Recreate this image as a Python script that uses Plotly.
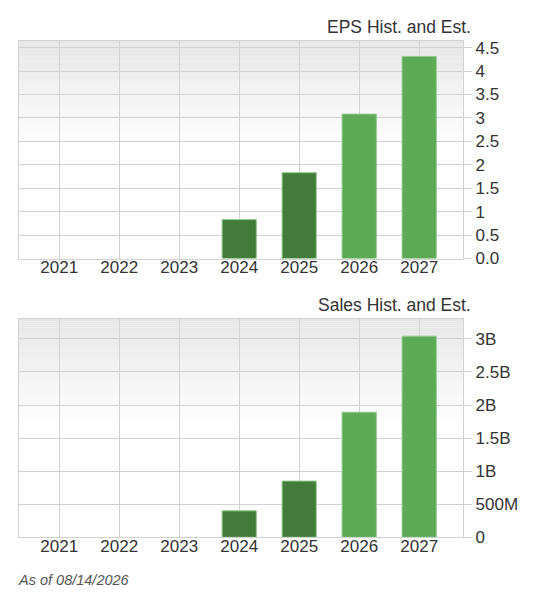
import plotly.graph_objects as go

years = ["2021", "2022", "2023", "2024", "2025", "2026", "2027"]
eps = [None, None, None, 0.83, 1.83, 3.08, 4.31]
sales = [None, None, None, 0.40e9, 0.85e9, 1.89e9, 3.04e9]

eps_ticks = [0, 0.5, 1, 1.5, 2, 2.5, 3, 3.5, 4, 4.5]
eps_labels = ["0.0", "0.5", "1", "1.5", "2", "2.5", "3", "3.5", "4", "4.5"]
sales_ticks = [0, 0.5e9, 1e9, 1.5e9, 2e9, 2.5e9, 3e9]
sales_labels = ["0", "500M", "1B", "1.5B", "2B", "2.5B", "3B"]

dark = "#437c3a"
light = "#5caa55"
bar_colors = [dark, dark, dark, dark, dark, light, light]
grid = "#d2d2d2"
text = "#333333"

# the page body has an 8px margin, so the figure is drawn 8px in from the corner
PAGE = 8
W, H = 535 - 2 * PAGE, 606 - 2 * PAGE


def px_x(x):
    return (x - PAGE) / W


def px_y(y):
    return 1 - (y - PAGE) / H


fig = go.Figure()
fig.add_trace(go.Bar(x=years, y=eps, xaxis="x", yaxis="y", width=0.57,
                     marker=dict(color=bar_colors, line=dict(color="#8fcb88", width=1))))
fig.add_trace(go.Bar(x=years, y=sales, xaxis="x2", yaxis="y2", width=0.57,
                     marker=dict(color=bar_colors, line=dict(color="#8fcb88", width=1))))

xaxis = dict(type="category", range=[-0.67, 6.73], showgrid=True, gridcolor=grid, gridwidth=1.3,
             showline=True, linecolor=grid, linewidth=1.3, mirror=True, ticks="", ticklabelstandoff=-7,
             automargin=False, tickfont=dict(size=17, color=text),
             domain=[px_x(19), px_x(463)], fixedrange=True)

fig.update_layout(
    width=W, height=H, margin=dict(l=0, r=0, t=0, b=0), autosize=False,
    paper_bgcolor="white", plot_bgcolor="rgba(0,0,0,0)", showlegend=False,
    font=dict(family="Liberation Sans, Arial, sans-serif", color=text),
    xaxis=dict(xaxis, anchor="y"),
    xaxis2=dict(xaxis, anchor="y2"),
    yaxis=dict(domain=[px_y(258.5), px_y(41)], range=[0, 4.64], side="right", anchor="x",
               tickvals=eps_ticks, ticktext=eps_labels, showgrid=True, gridcolor=grid, gridwidth=1.3,
               showline=True, linecolor=grid, linewidth=1.3, mirror=True, ticks="outside", ticklen=8, tickcolor=grid,
               automargin=False, tickfont=dict(size=17, color=text), zeroline=False, fixedrange=True),
    yaxis2=dict(domain=[px_y(537.3), px_y(319)], range=[0, 3.30e9], side="right", anchor="x2",
                tickvals=sales_ticks, ticktext=sales_labels, showgrid=True, gridcolor=grid, gridwidth=1.3,
                showline=True, linecolor=grid, linewidth=1.3, mirror=True, ticks="outside", ticklen=8, tickcolor=grid,
                automargin=False, tickfont=dict(size=17, color=text), zeroline=False, fixedrange=True),
)

# plot background fades from light grey at the top to white about halfway down
n = 50
for xr, yr in (("x domain", "y domain"), ("x2 domain", "y2 domain")):
    for i in range(n):
        g = round(230 + 25 * i / (n - 1))
        fig.add_shape(type="rect", xref=xr, yref=yr, x0=0, x1=1,
                      y0=1 - (i + 1) * 0.5 / n, y1=1 - i * 0.5 / n,
                      fillcolor=f"rgb({g},{g},{g})", line_width=0, layer="below")

fig.add_annotation(text="EPS Hist. and Est.", xref="paper", yref="paper", x=px_x(473), y=px_y(27),
                   xanchor="right", yanchor="middle", showarrow=False, font=dict(size=17.5, color=text))
fig.add_annotation(text="Sales Hist. and Est.", xref="paper", yref="paper", x=px_x(473), y=px_y(305),
                   xanchor="right", yanchor="middle", showarrow=False, font=dict(size=17.5, color=text))
fig.add_annotation(text="<i>As of 08/14/2026</i>", xref="paper", yref="paper", x=px_x(16), y=px_y(580),
                   xanchor="left", yanchor="middle", showarrow=False, font=dict(size=14.5, color="#555555"))

fig.write_html("out.html")
